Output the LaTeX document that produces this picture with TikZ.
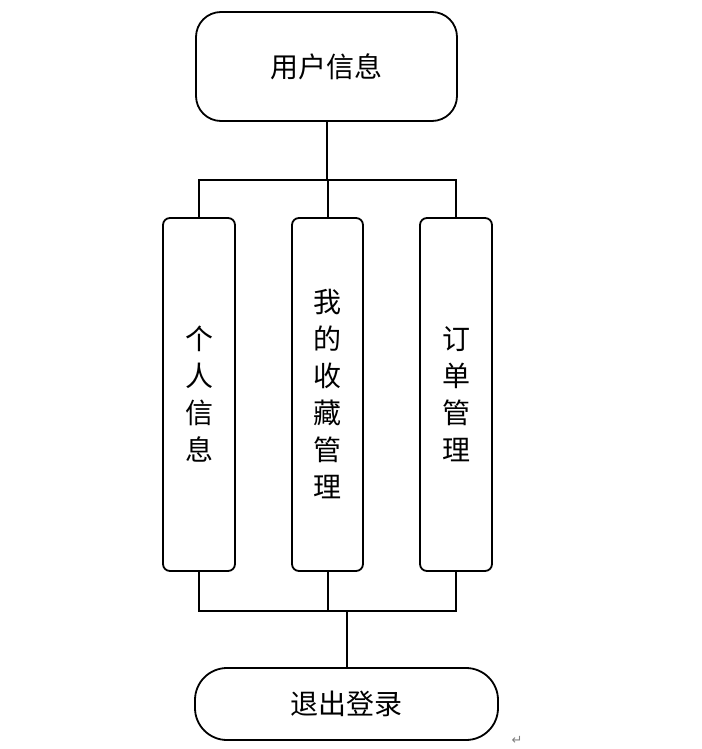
\documentclass[tikz,border=0pt]{standalone}
\usepackage{fontspec}
\setmainfont{Noto Sans CJK SC}
\newfontfamily\symfont{DejaVu Sans}
\usetikzlibrary{positioning}
\tikzset{link/.style={line width=2pt},
  menubox/.style={draw, line width=1.8pt, rounded corners=7pt, minimum width=72pt, minimum height=353pt, align=center, font=\fontsize{28}{37}\selectfont},
  endbox/.style={draw, line width=1.8pt, font=\fontsize{28}{32}\selectfont}}

\begin{document}
\begin{tikzpicture}[x=1pt,y=-1pt]
  \useasboundingbox (0,0) rectangle (701,749);
  \node[endbox, rounded corners=25pt, minimum width=261pt, minimum height=109pt] (user) at (326.5,66.5) {用户信息};
  % three menu items
  \node[menubox] (info)  at (199,394.5)   {个\\人\\信\\息};
  \node[menubox, minimum width=71pt] (fav) at (327.5,394.5) {我\\的\\收\\藏\\管\\理};
  \node[menubox] (order) at (456,394.5)   {订\\单\\管\\理};
  \node[endbox, rounded corners=32pt, minimum width=303pt, minimum height=72pt] (logout) at (346.5,704) {退出登录};
  % bus lines
  \coordinate (topbus) at (0,180);
  \coordinate (botbus) at (0,611);
  \draw[link] (user.south) -- (user.south |- topbus);
  \draw[link] (info.north) |- (order.north |- topbus) -- (order.north);
  \draw[link] (fav.north) -- (fav.north |- topbus);
  \draw[link] (info.south) |- (order.south |- botbus) -- (order.south);
  \draw[link] (fav.south) -- (fav.south |- botbus);
  \draw[link] (logout.north) -- (logout.north |- botbus);
  \node[text=gray, inner sep=1pt, font=\symfont\fontsize{13}{13}\selectfont] (mark) at (517,740) {↵};
\end{tikzpicture}
\end{document}
